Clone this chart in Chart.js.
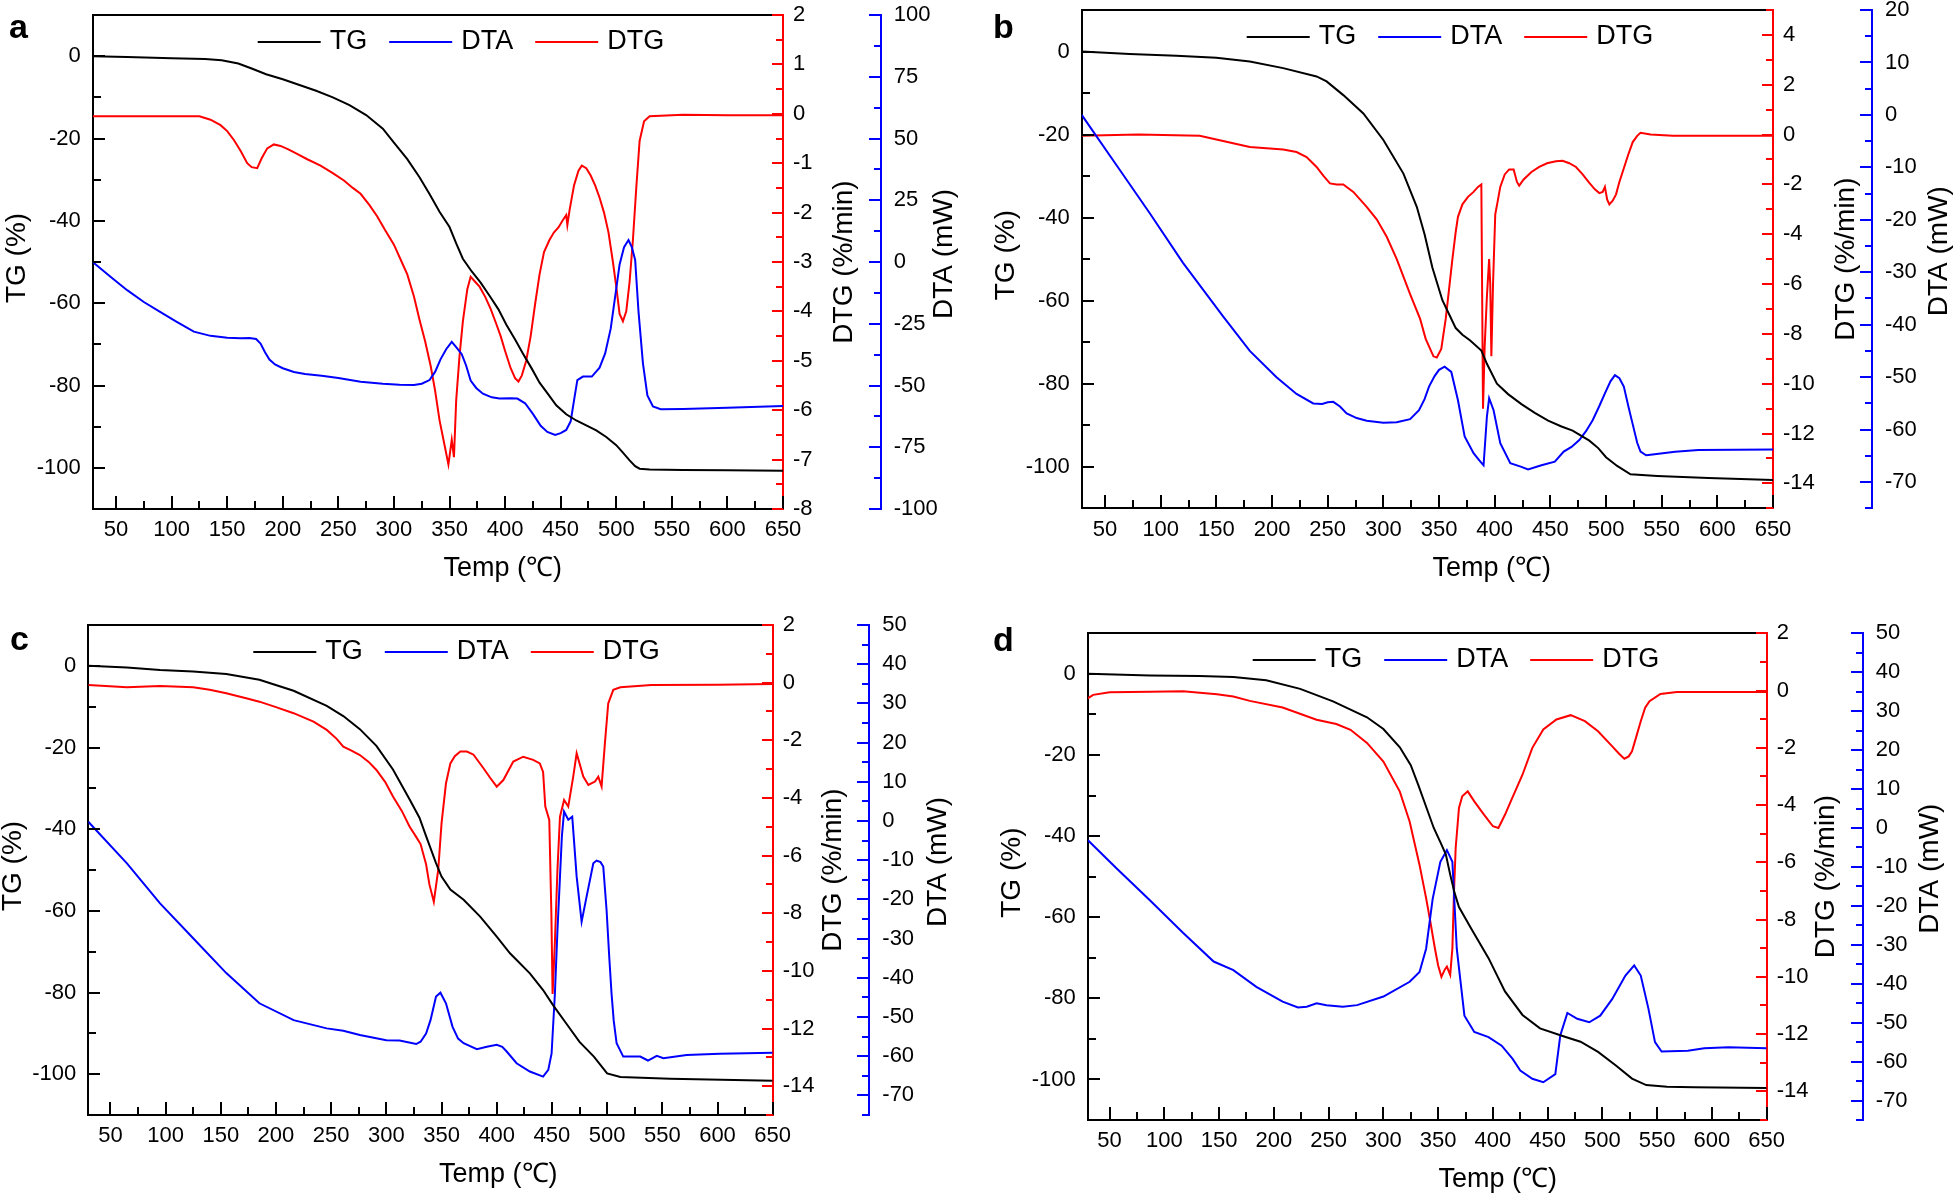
<!DOCTYPE html>
<html><head><meta charset="utf-8">
<script src="https://cdn.jsdelivr.net/npm/chart.js@4.4.1/dist/chart.umd.min.js"></script>
<style>
html,body{margin:0;padding:0;background:#fff;}
#wrap{position:relative;width:1960px;height:1196px;overflow:hidden;}
.panel{position:absolute;width:980px;height:598px;}
canvas{display:block;}
</style></head><body>
<div id="wrap">
<div class="panel" style="left:0;top:0"><canvas id="ca" width="980" height="598"></canvas></div>
<div class="panel" style="left:980px;top:0"><canvas id="cb" width="980" height="598"></canvas></div>
<div class="panel" style="left:0;top:598px"><canvas id="cc" width="980" height="598"></canvas></div>
<div class="panel" style="left:980px;top:598px"><canvas id="cd" width="980" height="598"></canvas></div>
</div>
<script>
// ---------------- DATA ----------------
const seriesNames = ['TG', 'DTA', 'DTG'];
const xTickLabels = [50,100,150,200,250,300,350,400,450,500,550,600,650];

// Panel a
const tA_tg = [29,60,100,130,145,160,172,185,200,215,230,245,260,275,290,300,312,323,332,341,350,356,362,370,378,386,394,401,409,416,424,431,439,446,455,464,473,482,491,500,506,512,517,521,530,560,600,650];
const tgA = [0,-0.2,-0.5,-0.7,-1.0,-1.8,-3.0,-4.4,-5.6,-7.0,-8.4,-10.0,-11.9,-14.3,-17.6,-21.0,-25.0,-29.4,-33.5,-37.8,-41.5,-45.5,-49.2,-52.3,-55.0,-58.2,-61.5,-65.2,-68.8,-72.2,-75.9,-79.3,-82.2,-84.8,-87.0,-88.5,-89.7,-90.9,-92.5,-94.5,-96.3,-98.2,-99.6,-100.2,-100.4,-100.5,-100.6,-100.7];
const tA_dtg = [29,60,100,125,135,144,150,156,162,168,172,177,181,186,192,198,205,212,222,234,245,255,263,270,278,285,292,300,307,312,318,323,328,333,337,341,345,349,352,354,356,359,362,366,369,373,377,382,387,392,396,400,405,409,412,415,419,423,427,431,435,440,444,448,452,455,456,458,462,466,469,473,477,481,485,489,493,497,500,503,506,509,512,515,518,521,525,530,560,600,650];
const dtgA = [-0.05,-0.05,-0.05,-0.05,-0.12,-0.23,-0.35,-0.53,-0.75,-1.0,-1.08,-1.1,-0.9,-0.7,-0.62,-0.65,-0.72,-0.8,-0.92,-1.05,-1.2,-1.35,-1.5,-1.62,-1.85,-2.08,-2.35,-2.65,-3.0,-3.25,-3.7,-4.17,-4.6,-5.1,-5.6,-6.2,-6.65,-7.1,-6.6,-6.95,-5.8,-4.9,-4.2,-3.55,-3.3,-3.4,-3.5,-3.7,-3.95,-4.25,-4.5,-4.8,-5.15,-5.35,-5.42,-5.3,-5.0,-4.5,-3.85,-3.25,-2.8,-2.55,-2.4,-2.3,-2.15,-2.05,-2.25,-1.95,-1.45,-1.15,-1.05,-1.1,-1.25,-1.45,-1.7,-2.0,-2.4,-3.0,-3.5,-4.05,-4.2,-4.0,-3.4,-2.55,-1.5,-0.55,-0.15,-0.05,-0.02,-0.03,-0.03];
const tA_dta = [29,45,60,75,90,105,120,135,150,162,170,176,180,184,188,193,200,210,220,235,250,270,290,305,318,325,332,337,342,347,352,356,361,365,369,374,380,388,395,405,411,418,425,432,438,445,450,455,459,462,465,470,478,485,490,495,499,503,507,511,514,517,520,524,528,533,540,560,600,650];
const dtaA = [0,-6,-11.4,-16.2,-20.3,-24.3,-28.2,-29.9,-30.7,-30.9,-30.8,-31.2,-33,-36.5,-39.5,-41.5,-43,-44.5,-45.3,-46.1,-47,-48.5,-49.3,-49.7,-49.8,-49.3,-47.8,-44.5,-39.3,-35.3,-32.3,-34.5,-37.3,-42,-48,-51,-53.3,-54.8,-55.3,-55.2,-55.3,-57.2,-61.5,-66.3,-68.8,-70,-69.3,-68,-64.5,-56,-47.8,-46.4,-46.4,-42.8,-37,-27,-14,-1,6,8.9,6,0.8,-20,-41,-54,-58.5,-59.6,-59.5,-59,-58.3];

// Panel b
const tB_tg = [29,72,114,150,180,210,240,249,264,282,300,318,330,337,344,353,360,365,371,378,388,393,402,412,424,436,448,460,470,485,493,500,510,522,546,592,650];
const tgB = [0,-0.6,-1.0,-1.5,-2.4,-4.0,-6.0,-7.2,-10.5,-14.9,-21.3,-29.4,-37.4,-44,-52,-59.9,-63.8,-66.6,-68.2,-69.6,-72.0,-75.2,-80.0,-82.5,-84.9,-87.0,-88.9,-90.3,-91.3,-93.7,-95.5,-97.7,-99.8,-101.8,-102.2,-102.7,-103.2];
const tB_dtg = [29,80,135,150,165,180,195,210,222,231,240,246,252,258,264,273,285,294,303,312,324,333,338,342,345,348,352,356,359,362,365,367,371,376,381,385,388,389.5,391,393,395,396,397,398.5,400.5,403,405,409,413,417,420,422,426,433,440,447,455,461,467,473,479,485,490,494,497,499,501,503,506,509,512,516,520,524,528,531,540,560,600,650];
const dtgB = [-0.05,0,-0.05,-0.2,-0.35,-0.5,-0.55,-0.6,-0.7,-0.9,-1.3,-1.65,-1.96,-2.0,-2.0,-2.3,-2.9,-3.4,-4.1,-5.0,-6.4,-7.4,-8.2,-8.6,-8.9,-8.95,-8.6,-7.4,-6.2,-5.0,-3.9,-3.3,-2.8,-2.5,-2.3,-2.1,-2.0,-11.0,-8.5,-6.5,-5.0,-6.0,-8.9,-6.0,-3.2,-2.6,-2.1,-1.6,-1.4,-1.4,-1.9,-2.05,-1.8,-1.5,-1.3,-1.15,-1.07,-1.05,-1.15,-1.3,-1.6,-1.94,-2.2,-2.35,-2.3,-2.1,-2.6,-2.8,-2.65,-2.4,-1.9,-1.35,-0.8,-0.3,-0.05,0.07,0,-0.05,-0.05,-0.05];
const tB_dta = [29,60,90,120,156,180,204,222,237,245,250,255,261,267,276,285,300,312,324,332,337,341,346,350,355,361,367,373,381,386,390,393,395,399,405,414,424,430,442,454,462,469,476,482,488,494,499,504,508,512,516,520,524,528,531,536,540,562,583,650];
const dtaB = [0,-9.5,-18.7,-28.2,-38.4,-45,-50,-53.2,-55,-55.1,-54.8,-54.7,-55.6,-56.9,-57.8,-58.3,-58.7,-58.6,-58,-56.3,-54.2,-51.8,-49.8,-48.6,-48,-49,-54.4,-61.3,-64.5,-65.8,-66.8,-57.5,-54,-56.3,-62.6,-66.4,-67.1,-67.6,-66.8,-66.1,-64.2,-63.3,-62,-60.3,-58.2,-55.5,-53.1,-50.8,-49.6,-50.2,-51.8,-55.5,-59,-62.5,-64.2,-64.9,-64.8,-64.2,-63.9,-63.8];

// Panel c
const tC_tg = [30,65,95,125,155,185,216,246,261,276,291,306,321,330,336,345,350,358,370,385,400,412,430,442,451,463,475,488,500,512,557,650];
const tgC = [0,-0.4,-1.0,-1.4,-2.0,-3.4,-6.1,-9.8,-12.3,-15.5,-19.6,-25.4,-32.7,-37.2,-41.7,-48.3,-51.6,-54.8,-57.3,-61.4,-66.3,-70.4,-75.3,-79.4,-83.1,-87.6,-92.1,-95.7,-99.8,-100.7,-101.1,-101.6];
const tC_dtg = [30,65,95,125,140,155,173,185,200,216,234,246,255,261,268,276,284,291,299,306,314,321,327,331,336,339,343,347,350,354,358,362,367,373,379,388,394,400,406,415,424,433,439,442,444,447.6,449.5,450.6,452.7,455,457.3,461,464.8,469.3,472.4,475,478.4,483,489,492,495,498,501,505.6,512,540,600,650];
const dtgC = [-0.08,-0.16,-0.12,-0.16,-0.25,-0.37,-0.54,-0.66,-0.85,-1.06,-1.35,-1.64,-1.95,-2.22,-2.35,-2.51,-2.75,-3.03,-3.45,-3.95,-4.45,-4.99,-5.35,-5.6,-6.3,-7.0,-7.6,-6.5,-4.88,-3.5,-2.8,-2.55,-2.39,-2.39,-2.5,-2.97,-3.3,-3.61,-3.38,-2.74,-2.57,-2.68,-2.8,-3.1,-4.3,-4.76,-8.0,-10.8,-9.0,-6.5,-4.65,-4.07,-4.3,-3.26,-2.45,-2.8,-3.26,-3.55,-3.43,-3.26,-3.6,-2.1,-0.72,-0.25,-0.16,-0.08,-0.07,-0.05];
const tC_dta = [30,65,95,125,155,185,216,246,261,276,300,312,327,331,336,340,345,349,354,360,365,370,382,391,400,405,409,418,430,442,446.7,449.7,452.7,455,457.3,459,461,464.8,468.4,470,472.4,476.9,481.4,487.5,490.5,494,496.5,499.5,502,504,506,508.6,514.6,530,537,545,551,572,602,650];
const dtaC = [-0.2,-10.8,-21,-29.9,-38.8,-46.5,-50.8,-52.9,-53.5,-54.6,-55.9,-56,-56.9,-56.3,-54.2,-50.8,-44.8,-43.8,-46.5,-52.5,-55.5,-56.7,-58.2,-57.6,-57.1,-57.6,-58.8,-61.8,-63.9,-65.2,-63.5,-59.3,-44,-28,-14.2,-4,2.4,0.3,1.1,-5,-14.2,-25.7,-19.3,-10.8,-10.1,-10.5,-11.6,-22.7,-35,-44,-51,-56.7,-60.1,-60.1,-61.1,-59.9,-60.5,-59.7,-59.4,-59.1];

// Panel d
const tD_tg = [30,87,132,163,193,224,254,285,300,315,325,332,340,346,352,357,361,365,369,380,396,411,427,443,465,480,496,512,527,540,559,584,650];
const tgD = [0,-0.4,-0.5,-0.8,-1.6,-3.7,-6.8,-10.7,-13.6,-18.1,-22.5,-27.5,-33.5,-38,-41.5,-44.5,-49.5,-54,-57.5,-62.7,-70.1,-78.3,-84.1,-87.4,-89.4,-90.7,-93.2,-96.5,-99.8,-101.4,-101.8,-101.9,-102.1];
const tD_dtg = [30,35,50,87,117,148,163,178,208,239,257,270,285,300,315,324,333,339,343,347,350,353,356,358,361,363,364.5,366,369,372,377,383,392,400,405,411,416,421,427,436,446,458,471,484,496,509,515,520,524,527,531,535,539,543,553,568,650];
const dtgD = [-0.27,-0.15,-0.06,-0.04,-0.02,-0.13,-0.21,-0.36,-0.59,-1.02,-1.17,-1.37,-1.83,-2.48,-3.53,-4.58,-6.09,-7.25,-8.1,-9.0,-9.6,-10.0,-9.75,-9.64,-9.93,-9.0,-7.0,-5.5,-4.1,-3.69,-3.52,-3.87,-4.34,-4.74,-4.8,-4.34,-3.9,-3.46,-2.94,-2.0,-1.36,-1.01,-0.86,-1.07,-1.42,-1.95,-2.2,-2.38,-2.3,-2.12,-1.6,-1.07,-0.6,-0.37,-0.12,-0.05,-0.05];
const tD_dta = [30,56,87,117,145,163,184,208,222,230,239,248,263,276,300,324,333,339,345,352,358,363,367,374,383,396,408,418,425,436,446,457,461.5,468,477,488,498,509,521,529,535,542,548,554,578,593,615,650];
const dtaD = [-3.1,-10.3,-18.6,-26.9,-34.3,-36.5,-40.8,-44.6,-46.1,-45.9,-45.0,-45.5,-45.9,-45.5,-43.3,-39.5,-37,-31,-18.2,-8.7,-5.7,-8.7,-31,-48.2,-52.4,-53.7,-55.9,-59.3,-62.3,-64.4,-65.3,-63.2,-53.3,-47.5,-49,-49.9,-48.2,-43.9,-37.9,-35.3,-37.9,-46.4,-55,-57.4,-57.2,-56.6,-56.3,-56.6];

// ---------------- RENDERING ----------------
const FONT = '"Liberation Sans", Arial, Helvetica, sans-serif';
const BLACK = '#000000', RED = '#FF0000', BLUE = '#0000FF';
Chart.defaults.font.family = FONT;
Chart.defaults.color = '#000';

const pts = (t, v) => t.map((x, i) => ({x: x, y: v[i]}));
const isMult = (v, step) => { const r = v / step; return Math.abs(r - Math.round(r)) < 1e-6; };

const panels = [
  {id:'ca', letter:'a', letterPos:[9,38], plot:{l:92.7, r:783, t:15, b:509}, dtaX:880.7, xMin:29,
   tg:[tA_tg,tgA], dta:[tA_dta,dtaA], dtg:[tA_dtg,dtgA],
   dtgR:[-8,2], dtgStep:1, dtgMajor:1, dtgMinor:0.5, dtaR:[-100,100], dtaStep:25, dtaMajor:25, dtaMinor:12.5,
   dtgTitleDX:61, dtaTitleDX:64},
  {id:'cb', letter:'b', letterPos:[13,38], plot:{l:101.7, r:793, t:10, b:508.3}, dtaX:892, xMin:29,
   tg:[tB_tg,tgB], dta:[tB_dta,dtaB], dtg:[tB_dtg,dtgB],
   dtgR:[-15,5], dtgStep:1, dtgMajor:2, dtgMinor:1, dtaR:[-75,20], dtaStep:5, dtaMajor:10, dtaMinor:5,
   dtgTitleDX:73, dtaTitleDX:67},
  {id:'cc', letter:'c', letterPos:[10,52], plot:{l:88.3, r:772.7, t:27, b:517}, dtaX:869.3, xMin:30,
   tg:[tC_tg,tgC], dta:[tC_dta,dtaC], dtg:[tC_dtg,dtgC],
   dtgR:[-15,2], dtgStep:1, dtgMajor:2, dtgMinor:1, dtaR:[-75,50], dtaStep:5, dtaMajor:10, dtaMinor:5,
   dtgTitleDX:61, dtaTitleDX:69},
  {id:'cd', letter:'d', letterPos:[13,53], plot:{l:107.7, r:786.7, t:35.3, b:522}, dtaX:882.8, xMin:30,
   tg:[tD_tg,tgD], dta:[tD_dta,dtaD], dtg:[tD_dtg,dtgD],
   dtgR:[-15,2], dtgStep:1, dtgMajor:2, dtgMinor:1, dtaR:[-75,50], dtaStep:5, dtaMajor:10, dtaMinor:5,
   dtgTitleDX:60, dtaTitleDX:67}
];

// inward tick marks (major + minor), located through each scale's own value->pixel mapping
function tickMarks(ctx, scale, minor, major, lineCoord, dir, color, lenMajor, lenMinor) {
  const lo = Number(scale.options.min), hi = Number(scale.options.max);
  const n0 = Math.ceil(lo / minor - 1e-6), n1 = Math.floor(hi / minor + 1e-6);
  const horiz = (scale.axis === 'x');
  ctx.save();
  ctx.fillStyle = color;
  for (let i = n0; i <= n1; i++) {
    const v = i * minor;
    const len = isMult(v, major) ? lenMajor : lenMinor;
    const px = Math.round(scale.getPixelForValue(v));
    if (!isFinite(px)) continue;
    if (horiz) {
      ctx.fillRect(px - 1, dir < 0 ? lineCoord - len : lineCoord, 2, len);
    } else {
      ctx.fillRect(dir < 0 ? lineCoord - len : lineCoord, px - 1, len, 2);
    }
  }
  ctx.restore();
}
function vText(ctx, text, x, y, font) {
  ctx.save(); ctx.translate(x, y); ctx.rotate(-Math.PI / 2);
  ctx.font = font; ctx.fillStyle = BLACK; ctx.textAlign = 'center'; ctx.textBaseline = 'middle';
  ctx.fillText(text, 0, 0); ctx.restore();
}

function yScale(pos, range, step, major, padding, width, color) {
  return {
    type:'linear', position:pos, min:range[0], max:range[1],
    ticks:{stepSize:step, includeBounds:false, autoSkip:false, maxTicksLimit:1000, padding:padding,
      font:{size:22}, color:BLACK, callback:(v) => isMult(v, major) ? String(Math.round(v*1000)/1000) : ''},
    grid:{display:false, drawTicks:false},
    border:{display:true, color:color, width:2},
    afterFit:(s) => { s.width = width; s.paddingTop = 0; s.paddingBottom = 0; }
  };
}

function buildPanel(p) {
  const W = 980, H = 598, L = p.plot;
  const deco = {
    id: 'deco_' + p.id,
    afterDraw(chart) {
      const ctx = chart.ctx, ca = chart.chartArea;
      const sx = chart.scales.x, sTG = chart.scales.yTG, sDTG = chart.scales.yDTG, sDTA = chart.scales.yDTA;
      ctx.save();
      ctx.fillStyle = BLACK;
      ctx.fillRect(Math.round(ca.left) - 1, Math.round(ca.top) - 1, Math.round(ca.right - ca.left) + 1, 2);
      ctx.restore();
      tickMarks(ctx, sx, 25, 50, Math.round(ca.bottom), -1, BLACK, 13, 8);
      tickMarks(ctx, sTG, 10, 20, Math.round(ca.left), 1, BLACK, 12, 8);
      tickMarks(ctx, sDTG, p.dtgMinor, p.dtgMajor, Math.round(ca.right), -1, RED, 11, 7);
      tickMarks(ctx, sDTA, p.dtaMinor, p.dtaMajor, Math.round(sDTA.left), -1, BLUE, 12, 7);
      ctx.save();
      // axis titles
      const tfont = '28px ' + FONT;
      const cy = (ca.top + ca.bottom) / 2;
      vText(ctx, 'TG (%)', ca.left - 75, cy - 4, tfont);
      vText(ctx, 'DTG (%/min)', ca.right + p.dtgTitleDX, cy, tfont);
      vText(ctx, 'DTA (mW)', sDTA.left + p.dtaTitleDX, cy - 8, tfont);
      ctx.font = '27px ' + FONT; ctx.fillStyle = BLACK; ctx.textAlign = 'center'; ctx.textBaseline = 'middle';
      ctx.fillText('Temp (\u2103)', ca.left + 410, ca.bottom + 60);
      // legend
      ctx.font = '27px ' + FONT; ctx.textAlign = 'left'; ctx.textBaseline = 'middle';
      let lx = ca.left + 165; const ly = Math.round(ca.top + 27);
      chart.data.datasets.forEach(ds => {
        ctx.fillStyle = ds.borderColor;
        ctx.fillRect(lx, ly - 1, 63, 2);
        lx += 72;
        ctx.fillStyle = BLACK; ctx.fillText(ds.label, lx, ly);
        lx += ctx.measureText(ds.label).width + 22;
      });
      // panel letter
      ctx.font = 'bold 34px ' + FONT; ctx.textAlign = 'left'; ctx.textBaseline = 'alphabetic';
      ctx.fillText(p.letter, p.letterPos[0], p.letterPos[1]);
      ctx.restore();
    }
  };
  const lineDs = (label, d, color, axis) => ({
    label: label, data: pts(d[0], d[1]), borderColor: color, backgroundColor: color,
    borderWidth: 2, pointRadius: 0, tension: 0, fill: false, yAxisID: axis
  });
  new Chart(document.getElementById(p.id), {
    type: 'line',
    data: { datasets: [
      lineDs(seriesNames[0], p.tg, BLACK, 'yTG'),
      lineDs(seriesNames[1], p.dta, BLUE, 'yDTA'),
      lineDs(seriesNames[2], p.dtg, RED, 'yDTG')
    ]},
    options: {
      responsive: false, animation: false, devicePixelRatio: 1,
      layout: { autoPadding: false, padding: { top: L.t, left: 0, right: 0, bottom: 0 } },
      plugins: { legend: { display: false }, tooltip: { enabled: false }, title: { display: false } },
      scales: {
        x: {
          type: 'linear', position: 'bottom', min: p.xMin, max: 650,
          ticks: { stepSize: 25, includeBounds: false, autoSkip: false, maxRotation: 0, minRotation: 0, maxTicksLimit: 1000,
            padding: 8, font: { size: 22 }, color: BLACK,
            callback: (v) => xTickLabels.includes(v) ? String(v) : '' },
          grid: { display: false, drawTicks: false },
          border: { display: true, color: BLACK, width: 2 },
          afterFit: (s) => { s.height = H - L.b; s.paddingLeft = 0; s.paddingRight = 0; }
        },
        yTG: yScale('left', [-110, 10], 10, 20, 12, L.l, BLACK),
        yDTG: yScale('right', p.dtgR, p.dtgStep, p.dtgMajor, 10, p.dtaX - L.r, RED),
        yDTA: yScale('right', p.dtaR, p.dtaStep, p.dtaMajor, 13, W - p.dtaX, BLUE)
      }
    },
    plugins: [deco]
  });
}
panels.forEach(buildPanel);
</script>
</body></html>
